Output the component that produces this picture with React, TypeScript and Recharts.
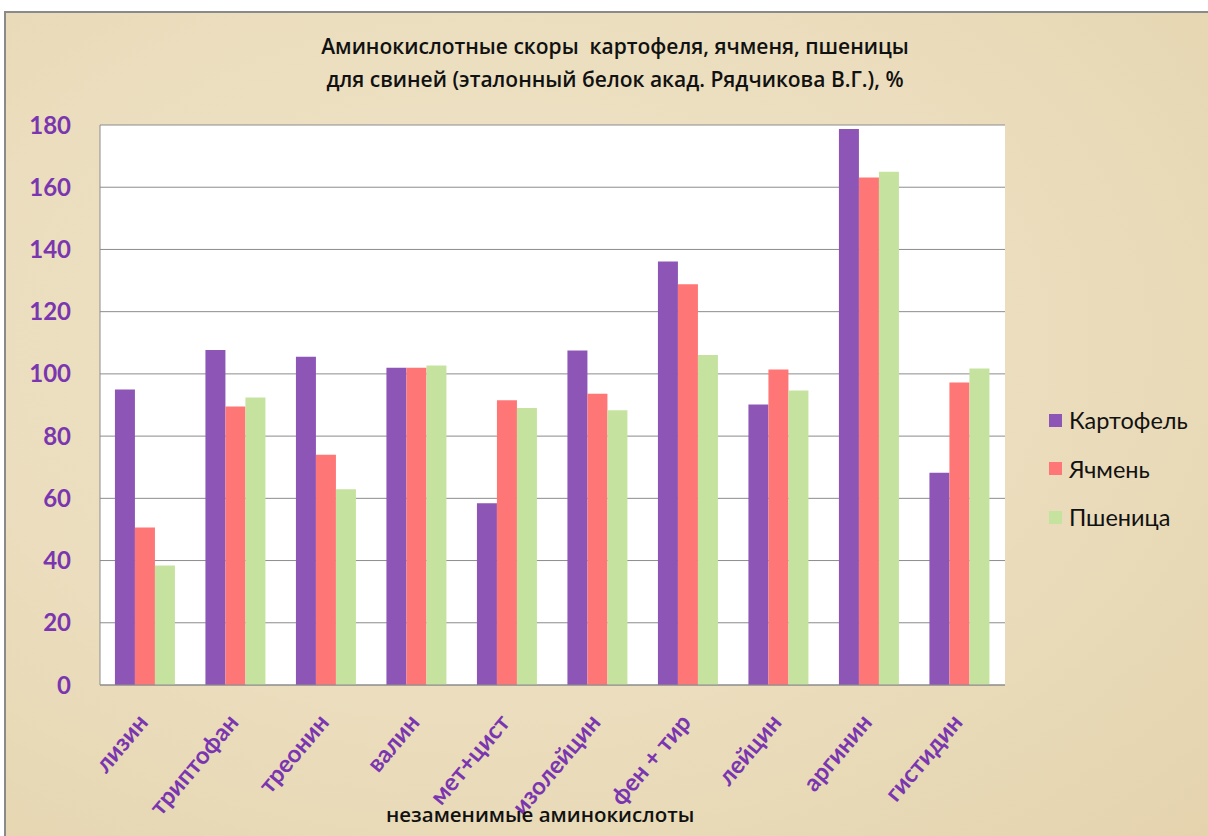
import React from 'react';
import { BarChart, Bar, XAxis, YAxis, CartesianGrid } from 'recharts';

const aminoAcids = ['лизин', 'триптофан', 'треонин', 'валин', 'мет+цист', 'изолейцин', 'фен + тир', 'лейцин', 'аргинин', 'гистидин'];
const potato = [95, 107.7, 105.5, 102, 58.4, 107.5, 136.1, 90.2, 178.7, 68.2];
const barley = [50.6, 89.5, 74, 102, 91.5, 93.6, 128.8, 101.4, 163.1, 97.2];
const wheat = [38.4, 92.4, 62.9, 102.7, 89, 88.3, 106.1, 94.7, 165, 101.7];
const yTicks = [0, 20, 40, 60, 80, 100, 120, 140, 160, 180];

const series = [
  { key: 'potato', name: 'Картофель', color: '#8d56b6' },
  { key: 'barley', name: 'Ячмень', color: '#ff7676' },
  { key: 'wheat', name: 'Пшеница', color: '#c5e39f' },
];

const data = aminoAcids.map((name, i) => ({
  name,
  potato: potato[i],
  barley: barley[i],
  wheat: wheat[i],
}));

const PURPLE = '#7a35b0';
const FONT = 'Lato, "Open Sans", sans-serif';
const TITLE_FONT = '"Open Sans", Lato, sans-serif';

function AngledTick({ x, y, payload }: any) {
  const tx = x + 4;
  const ty = y + 30;
  return (
    <text
      x={tx}
      y={ty}
      textAnchor="end"
      transform={`rotate(-50, ${tx}, ${ty})`}
      fill={PURPLE}
      fontSize={24}
      fontWeight="bold"
      fontFamily={FONT}
    >
      {payload.value}
    </text>
  );
}

function LegendBox() {
  return (
    <div style={{ position: 'absolute', left: 1049, top: 396, fontFamily: FONT, fontSize: 23.5, color: '#111' }}>
      {series.map((s) => (
        <div key={s.key} style={{ display: 'flex', alignItems: 'center', height: 48.5 }}>
          <span style={{ width: 13, height: 13, background: s.color, marginRight: 7, display: 'inline-block' }} />
          {s.name}
        </div>
      ))}
    </div>
  );
}

export default function App() {
  return (
    <div style={{ position: 'absolute', left: 0, top: 0, width: 1208, height: 836, background: '#fff', overflow: 'hidden' }}>
      <div
        style={{
          position: 'absolute',
          left: 4,
          top: 11,
          width: 1210,
          height: 830,
          borderTop: '2px solid #8a8a8a',
          borderLeft: '2px solid #8a8a8a',
          background: 'radial-gradient(ellipse at 40% 40%, #f0e5ca 0%, #eadcbb 60%, #e4d3ad 100%)',
        }}
      />
      <div
        style={{
          position: 'absolute',
          left: 0,
          width: 1230,
          top: 30,
          textAlign: 'center',
          fontFamily: TITLE_FONT,
          fontWeight: 600,
          fontSize: 21,
          lineHeight: '33px',
          color: '#111',
        }}
      >
        <div>Аминокислотные скоры&nbsp; картофеля, ячменя, пшеницы</div>
        <div>для свиней (эталонный белок акад. Рядчикова В.Г.), %</div>
      </div>
      <div
        style={{
          position: 'absolute',
          left: 386,
          top: 800,
          fontFamily: TITLE_FONT,
          fontWeight: 600,
          fontSize: 20.5,
          color: '#111',
          zIndex: 2,
        }}
      >
        незаменимые аминокислоты
      </div>
      <LegendBox />
      <div style={{ position: 'absolute', left: 0, top: 0 }}>
        <BarChart
          width={1208}
          height={836}
          data={data}
          margin={{ top: 125, right: 203, bottom: 0, left: 10 }}
          barCategoryGap="16.5%"
          barGap={0}
        >
          <CartesianGrid vertical={false} stroke="#8c8c8c" fill="#ffffff" />
          <XAxis
            dataKey="name"
            height={151}
            interval={0}
            tick={<AngledTick />}
            tickLine={false}
            axisLine={{ stroke: '#8c8c8c' }}
          />
          <YAxis
            width={90}
            domain={[0, 180]}
            ticks={yTicks}
            interval={0}
            tickSize={0}
            tickMargin={29}
            axisLine={{ stroke: '#8c8c8c' }}
            tick={{ fill: PURPLE, fontSize: 24, fontWeight: 'bold', fontFamily: FONT }}
          />
          <YAxis
            yAxisId="edge"
            orientation="right"
            width={0}
            tick={false}
            tickLine={false}
            axisLine={{ stroke: '#b0b0b0' }}
          />
          {series.map((s) => (
            <Bar key={s.key} dataKey={s.key} name={s.name} fill={s.color} isAnimationActive={false} />
          ))}
        </BarChart>
      </div>
    </div>
  );
}
